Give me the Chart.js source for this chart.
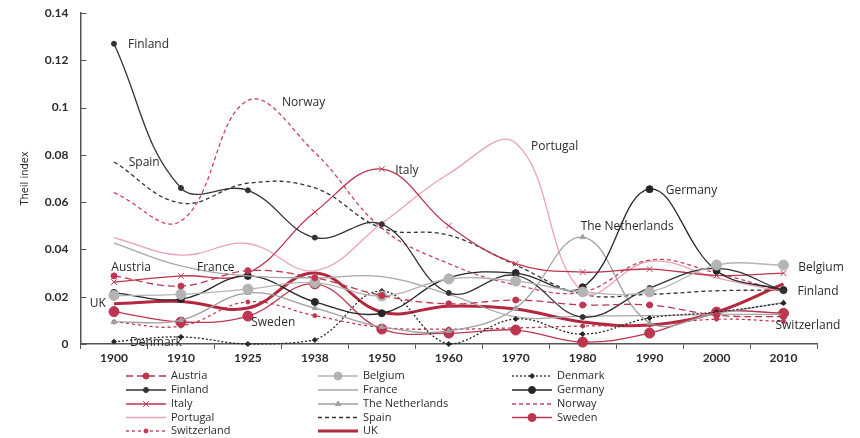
<!DOCTYPE html>
<html>
<head>
<meta charset="utf-8">
<script src="https://cdn.jsdelivr.net/npm/chart.js@4/dist/chart.umd.min.js"></script>
<style>
  html, body { margin: 0; padding: 0; background: #fff; }
  canvas { display: block; }
</style>
</head>
<body>
<canvas id="chart" width="860" height="438"></canvas>
<script>
// Census years on the horizontal axis
const years = ['1900', '1910', '1925', '1938', '1950', '1960', '1970', '1980', '1990', '2000', '2010'];

// Theil index of regional inequality, by country
const austria     = [0.0288, 0.0245, 0.0310, 0.0280, 0.0205, 0.0170, 0.0186, 0.0165, 0.0165, 0.0122, 0.0115];
const belgium     = [0.0205, 0.0210, 0.0232, 0.0260, 0.0203, 0.0275, 0.0266, 0.0220, 0.0220, 0.0334, 0.0334];
const denmark     = [0.0010, 0.0030, 0.0000, 0.0017, 0.0224, 0.0000, 0.0106, 0.0042, 0.0110, 0.0135, 0.0173];
const finland     = [0.1270, 0.0660, 0.0650, 0.0450, 0.0507, 0.0216, 0.0290, 0.0114, 0.0237, 0.0320, 0.0225];
const france      = [0.0427, 0.0330, 0.0288, 0.0280, 0.0285, 0.0210, 0.0115, 0.0118, 0.0120, 0.0125, 0.0125];
const germany     = [0.0216, 0.0190, 0.0288, 0.0178, 0.0130, 0.0280, 0.0300, 0.0240, 0.0655, 0.0310, 0.0228];
const italy       = [0.0262, 0.0288, 0.0300, 0.0558, 0.0740, 0.0500, 0.0340, 0.0304, 0.0317, 0.0290, 0.0300];
const netherlands = [0.0093, 0.0101, 0.0216, 0.0152, 0.0072, 0.0055, 0.0152, 0.0452, 0.0090, 0.0130, 0.0175];
const norway      = [0.0640, 0.0520, 0.1030, 0.0810, 0.0490, 0.0340, 0.0250, 0.0220, 0.0355, 0.0300, 0.0220];
const portugal    = [0.0450, 0.0376, 0.0425, 0.0310, 0.0510, 0.0720, 0.0850, 0.0220, 0.0350, 0.0280, 0.0220];
const spain       = [0.0770, 0.0596, 0.0680, 0.0660, 0.0490, 0.0460, 0.0334, 0.0210, 0.0210, 0.0225, 0.0228];
const sweden      = [0.0137, 0.0093, 0.0118, 0.0254, 0.0063, 0.0046, 0.0059, 0.0008, 0.0046, 0.0135, 0.0130];
const switzerland = [0.0093, 0.0076, 0.0178, 0.0120, 0.0070, 0.0063, 0.0068, 0.0076, 0.0080, 0.0105, 0.0095];
const uk          = [0.0170, 0.0180, 0.0152, 0.0300, 0.0135, 0.0160, 0.0148, 0.0093, 0.0080, 0.0135, 0.0254];

// Vertical axis ticks
const yTicks = [0, 0.02, 0.04, 0.06, 0.08, 0.1, 0.12, 0.14];

// Country name tags placed in data coordinates: [text, category position, value]
const tags = [
  ['Finland', 0.21, 0.1268],
  ['Spain', 0.22, 0.0769],
  ['Norway', 2.51, 0.1023],
  ['Italy', 4.20, 0.0735],
  ['Portugal', 6.23, 0.0833],
  ['Germany', 8.24, 0.0651],
  ['The Netherlands', 6.97, 0.0495],
  ['Belgium', 10.22, 0.0325],
  ['Finland', 10.21, 0.0220],
  ['Switzerland', 9.88, 0.0076],
  ['Austria', -0.04, 0.0325],
  ['France', 1.24, 0.0325],
  ['UK', -0.36, 0.0169],
  ['Sweden', 2.05, 0.0089],
  ['Denmark', 0.24, 0.0004]
];

const RED = '#bd3650';
const DARK = '#262626';
const GREY = '#b4b4b4';
const PINK = '#e9a3b3';

function series(label, data, color, opts) {
  return Object.assign({
    label: label,
    data: data,
    borderColor: color,
    backgroundColor: color,
    pointBackgroundColor: color,
    pointBorderColor: color,
    borderWidth: 1.3,
    pointRadius: 0,
    pointBorderWidth: 1,
    pointStyle: 'circle',
    tension: 0.4,
    fill: false,
    clip: false
  }, opts || {});
}

const datasets = [
  series('Austria', austria, RED, { borderDash: [7, 4], pointRadius: 3 }),
  series('Belgium', belgium, GREY, { pointRadius: 5 }),
  series('Denmark', denmark, DARK, { borderDash: [2, 2], pointRadius: 2.5, pointStyle: 'rectRot' }),
  series('Finland', finland, '#333333', { pointRadius: 2.5 }),
  series('France', france, '#a8a8a8'),
  series('Germany', germany, DARK, { pointRadius: 3.5 }),
  series('Italy', italy, RED, { pointRadius: 4, pointStyle: 'crossRot' }),
  series('The Netherlands', netherlands, '#a0a0a0', { pointRadius: 3, pointStyle: 'triangle' }),
  series('Norway', norway, '#c9435d', { borderDash: [4, 3] }),
  series('Portugal', portugal, PINK),
  series('Spain', spain, '#333333', { borderDash: [4, 3] }),
  series('Sweden', sweden, RED, { pointRadius: 5 }),
  series('Switzerland', switzerland, RED, { borderDash: [3, 3], pointRadius: 2 }),
  series('UK', uk, '#b3283f', { borderWidth: 3 })
];

const TEXT = '#2b2b2b';
const AXIS = '#555555';

// Axis line extras, country tags, legend and axis title
const decorations = {
  id: 'decorations',
  afterDatasetsDraw(chart) {
    const ctx = chart.ctx;
    const xs = chart.scales.x, ys = chart.scales.y;
    ctx.save();
    ctx.font = '12px "Open Sans", Lato, sans-serif';
    ctx.fillStyle = TEXT;
    ctx.textBaseline = 'middle';
    ctx.textAlign = 'left';
    tags.forEach(([text, pos, val]) => {
      ctx.fillText(text, xs.getPixelForValue(pos), ys.getPixelForValue(val));
    });
    ctx.restore();
  },
  afterDraw(chart) {
    const ctx = chart.ctx;
    const area = chart.chartArea;
    const ys = chart.scales.y;
    ctx.save();
    // inward tick marks on the value axis
    ctx.strokeStyle = AXIS;
    ctx.lineWidth = 1;
    yTicks.forEach(v => {
      const y = Math.round(ys.getPixelForValue(v)) + 0.5;
      ctx.beginPath();
      ctx.moveTo(area.left, y);
      ctx.lineTo(area.left + 6, y);
      ctx.stroke();
    });

    // axis title
    ctx.save();
    ctx.translate(25, (area.top + area.bottom) / 2);
    ctx.rotate(-Math.PI / 2);
    ctx.font = '11px "Liberation Sans Narrow", "DejaVu Sans Condensed", sans-serif';
    ctx.fillStyle = TEXT;
    ctx.textAlign = 'center';
    ctx.textBaseline = 'middle';
    ctx.fillText('Theil index', 0, 0);
    ctx.restore();

    // legend in three columns
    const colLine = [126, 318, 512];
    const rowY = [376, 390, 404, 417.5, 431];
    const lineLen = 40;
    chart.data.datasets.forEach((ds, i) => {
      const col = i % 3, row = Math.floor(i / 3);
      const x0 = colLine[col], y = rowY[row];
      ctx.save();
      ctx.strokeStyle = ds.borderColor;
      ctx.lineWidth = ds.borderWidth;
      ctx.setLineDash(ds.borderDash || []);
      ctx.beginPath();
      ctx.moveTo(x0, y);
      ctx.lineTo(x0 + lineLen, y);
      ctx.stroke();
      ctx.setLineDash([]);
      if (ds.pointRadius > 0) {
        ctx.fillStyle = ds.pointBackgroundColor;
        ctx.strokeStyle = ds.pointBorderColor;
        ctx.lineWidth = ds.pointBorderWidth;
        Chart.helpers.drawPoint(ctx, {
          pointStyle: ds.pointStyle,
          radius: Math.min(ds.pointRadius, 4),
          rotation: 0,
          borderWidth: ds.pointBorderWidth
        }, x0 + lineLen / 2, y);
      }
      ctx.fillStyle = TEXT;
      ctx.font = '11px "Open Sans", Lato, sans-serif';
      ctx.textAlign = 'left';
      ctx.textBaseline = 'middle';
      ctx.fillText(ds.label, x0 + lineLen + 5, y);
      ctx.restore();
    });
    ctx.restore();
  }
};

new Chart(document.getElementById('chart'), {
  type: 'line',
  data: { labels: years, datasets: datasets },
  options: {
    responsive: false,
    animation: false,
    devicePixelRatio: 1,
    layout: { padding: { top: 13, right: 43, left: 0, bottom: 0 } },
    plugins: { legend: { display: false }, tooltip: { enabled: false } },
    scales: {
      x: {
        offset: true,
        grid: { display: true, drawOnChartArea: false, drawTicks: true, tickLength: 5, offset: true, color: AXIS, lineWidth: 1 },
        border: { display: true, color: AXIS, width: 1.5 },
        ticks: { padding: 2, color: TEXT, autoSkip: false, maxRotation: 0, font: { family: 'Lato', size: 12, weight: 'bold' } },
        afterFit(scale) { scale.height = 94; }
      },
      y: {
        min: 0,
        max: 0.14,
        grid: { display: false, drawTicks: false },
        border: { display: true, color: AXIS, width: 1.5 },
        ticks: {
          stepSize: 0.02,
          padding: 12,
          color: TEXT,
          font: { family: 'Lato', size: 12, weight: 'bold' },
          callback: v => String(+v.toFixed(2))
        },
        afterFit(scale) {
          scale.width = 80.5;
          scale.paddingTop = 0;
          scale.paddingBottom = 0;
        }
      }
    }
  },
  plugins: [decorations]
});
</script>
</body>
</html>
